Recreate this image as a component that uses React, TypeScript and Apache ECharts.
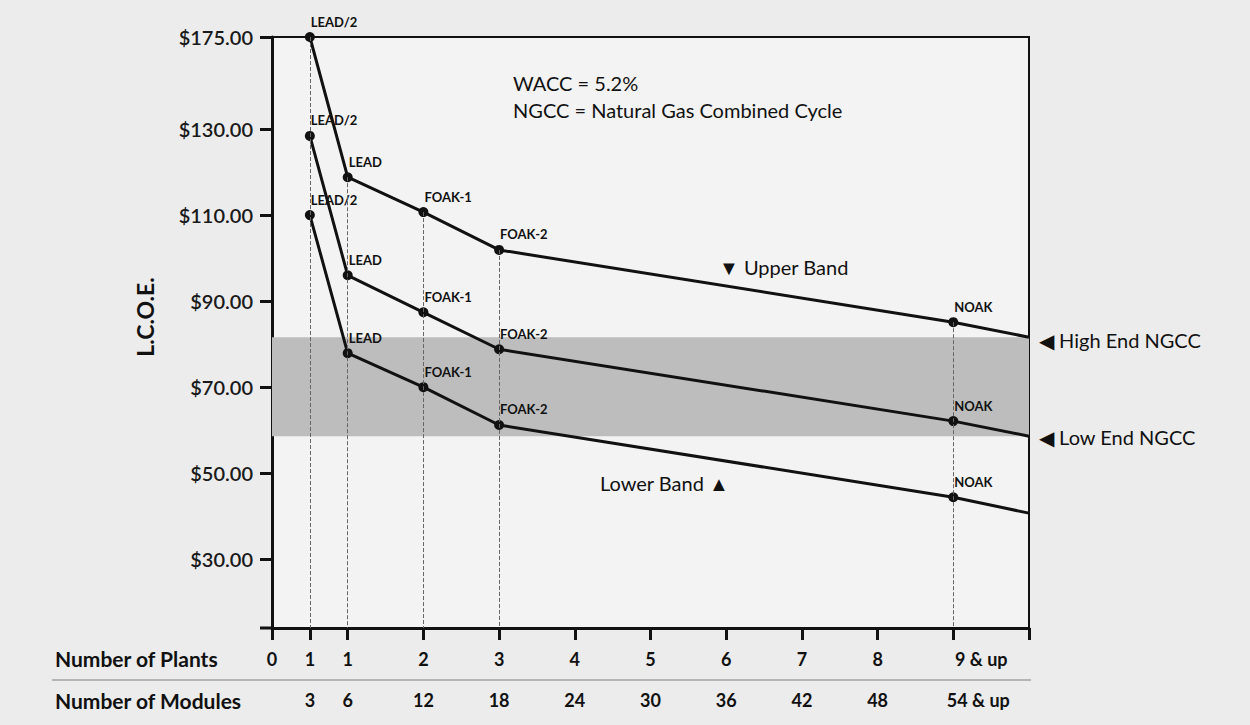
import React, { useEffect, useRef } from "react";
import * as echarts from "echarts";

// ---- data ----
const moduleTicks = [0, 3, 6, 12, 18, 24, 30, 36, 42, 48, 54];
const plantLabels = ["0", "1", "1", "2", "3", "4", "5", "6", "7", "8", "9 & up"];
const moduleLabelValues = [3, 6, 12, 18, 24, 30, 36, 42, 48, 54];
const moduleLabels = ["3", "6", "12", "18", "24", "30", "36", "42", "48", "54 & up"];

const pointX = [3, 6, 12, 18, 54, 60];
const pointNames = ["LEAD/2", "LEAD", "FOAK-1", "FOAK-2", "NOAK", ""];
const upperBand = [175, 118.8, 110.7, 101.9, 85.1, 81.6];
const middleBand = [128.4, 96.0, 87.4, 78.8, 62.1, 58.6];
const lowerBand = [110, 77.9, 70, 61.2, 44.4, 40.7];
const ngccHigh = 81.6;
const ngccLow = 58.6;
const yTickValues = [30, 50, 70, 90, 110, 130, 175];

// the axis is compressed above $130 (as in the original figure)
const BREAK = 130;
const COMPRESS = 21.4 / 45;
const toAxis = (v: number) => (v <= BREAK ? v : BREAK + (v - BREAK) * COMPRESS);
const fromAxis = (u: number) => (u <= BREAK + 1e-9 ? u : BREAK + (u - BREAK) / COMPRESS);

const FONT = "Lato";

function buildSeriesData(vals: number[]) {
  return vals.map((v, i) => {
    const item: any = { value: [pointX[i], toAxis(v)], name: pointNames[i] };
    if (!pointNames[i]) {
      item.symbol = "none";
      item.label = { show: false };
    }
    return item;
  });
}

export default function App() {
  const ref = useRef<HTMLDivElement>(null);
  useEffect(() => {
    document.body.style.margin = "0";
    document.body.style.background = "#ececec";
    const chart = echarts.init(ref.current!, null, { renderer: "svg" });
    const lineBase = {
      type: "line",
      z: 3,
      symbol: "circle",
      symbolSize: 10,
      lineStyle: { color: "#111", width: 3 },
      itemStyle: { color: "#111" },
      label: {
        show: true,
        position: "top",
        align: "left",
        distance: 4,
        offset: [1, 0],
        formatter: "{b}",
        fontFamily: FONT,
        fontWeight: "bold",
        fontSize: 13,
        color: "#111",
      },
    };
    const labelText = (text: string, x: number, y: number, size = 20, weight = "normal") => ({
      type: "text",
      x,
      y,
      style: {
        text,
        font: `${weight} ${size}px ${FONT}`,
        fill: "#111",
        verticalAlign: "middle",
        textVerticalAlign: "middle",
      },
    });
    const tickLabelStyle = {
      fontFamily: FONT,
      fontWeight: "bold",
      fontSize: 18,
      color: "#111",
    };
    chart.setOption({
      animation: false,
      backgroundColor: "#ececec",
      grid: {
        left: 272,
        right: 221,
        top: 37,
        bottom: 97,
        show: true,
        backgroundColor: "#f3f3f3",
        borderColor: "#111",
        borderWidth: 2,
      },
      xAxis: [
        {
          type: "value",
          min: 0,
          max: 60,
          position: "bottom",
          splitLine: { show: false },
          axisLine: { show: true, lineStyle: { color: "#111", width: 3 } },
          axisTick: {
            show: true,
            customValues: [...moduleTicks, 60],
            length: 12,
            lineStyle: { color: "#111", width: 3 },
          },
          axisLabel: {
            customValues: moduleTicks,
            margin: 22,
            ...tickLabelStyle,
            formatter: (v: number) => {
              const i = moduleTicks.indexOf(v);
              const t = plantLabels[i];
              return i === moduleTicks.length - 1 ? `{s|${t}}` : t;
            },
            rich: { s: { padding: [0, 0, 0, 56], ...tickLabelStyle } },
          },
        },
        {
          type: "value",
          min: 0,
          max: 60,
          position: "bottom",
          offset: 0,
          splitLine: { show: false },
          axisLine: { show: false },
          axisTick: { show: false },
          axisLabel: {
            customValues: moduleLabelValues,
            margin: 63,
            ...tickLabelStyle,
            formatter: (v: number) => {
              const i = moduleLabelValues.indexOf(v);
              const t = moduleLabels[i];
              return i === moduleLabelValues.length - 1 ? `{s|${t}}` : t;
            },
            rich: { s: { padding: [0, 0, 0, 50], ...tickLabelStyle } },
          },
        },
      ],
      yAxis: {
        type: "value",
        min: 14,
        max: toAxis(175),
        splitLine: { show: false },
        axisLine: { show: true, onZero: false, lineStyle: { color: "#111", width: 3 } },
        axisTick: {
          show: true,
          customValues: yTickValues.map(toAxis),
          length: 12,
          lineStyle: { color: "#111", width: 3 },
        },
        axisLabel: {
          customValues: yTickValues.map(toAxis),
          margin: 19,
          fontFamily: FONT,
          fontWeight: 600,
          fontSize: 20,
          color: "#1a1a1a",
          formatter: (u: number) => "$" + fromAxis(u).toFixed(2),
        },
      },
      graphic: [
        { type: "line", shape: { x1: 260, y1: 628, x2: 272, y2: 628 }, style: { stroke: "#111", lineWidth: 3 } },
        { type: "line", shape: { x1: 52, y1: 680, x2: 1031, y2: 680 }, style: { stroke: "#b5b5b5", lineWidth: 2 } },
        labelText("Number of Plants", 55, 658, 21, "bold"),
        labelText("Number of Modules", 55, 700, 21, "bold"),
        {
          type: "text",
          x: 145,
          y: 317,
          rotation: Math.PI / 2,
          style: {
            text: "L.C.O.E.",
            font: `bold 23px ${FONT}`,
            fill: "#111",
            align: "center",
            textAlign: "center",
            verticalAlign: "middle",
            textVerticalAlign: "middle",
          },
        },
        labelText("WACC = 5.2%", 513, 83),
        labelText("NGCC = Natural Gas Combined Cycle", 513, 110),
        labelText("▼ Upper Band", 719, 267),
        labelText("Lower Band ▲", 600, 483),
        labelText("◀ High End NGCC", 1039, 340),
        labelText("◀ Low End NGCC", 1039, 437),
      ],
      series: [
        {
          type: "line",
          z: 1,
          data: [],
          markArea: {
            silent: true,
            itemStyle: { color: "#bdbdbd" },
            data: [[{ xAxis: 0, yAxis: toAxis(ngccHigh) }, { xAxis: 60, yAxis: toAxis(ngccLow) }]],
          },
        },
        {
          ...lineBase,
          name: "Upper Band",
          data: buildSeriesData(upperBand),
          markLine: {
            silent: true,
            symbol: ["none", "none"],
            label: { show: false },
            lineStyle: { type: "dashed", color: "#666", width: 1 },
            data: pointX.slice(0, 5).map((x, i) => [
              { coord: [x, toAxis(upperBand[i])] },
              { coord: [x, 14] },
            ]),
          },
        },
        { ...lineBase, name: "Middle", data: buildSeriesData(middleBand) },
        { ...lineBase, name: "Lower Band", data: buildSeriesData(lowerBand) },
      ],
    });
    return () => chart.dispose();
  }, []);
  return <div ref={ref} style={{ width: 1250, height: 725 }} />;
}
